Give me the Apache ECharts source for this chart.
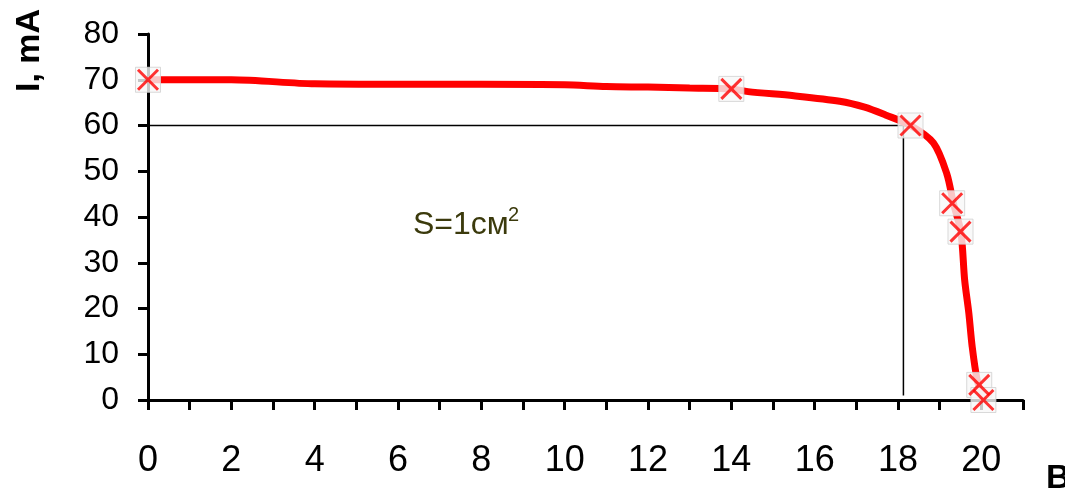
<!DOCTYPE html>
<html><head><meta charset="utf-8">
<script src="https://cdn.jsdelivr.net/npm/echarts@6/dist/echarts.min.js"></script>
<style>html,body{margin:0;padding:0;background:#fff}#c{width:1065px;height:488px}</style>
</head><body><div id="c"></div>
<script>
// measured points (markers)
const markerX = [0, 14, 18.3, 19.3, 19.5, 19.95, 20.05];
const markerY = [70, 68, 60, 43, 36.8, 3.3, 0];
// curve traced through the picture
const curveX = [0, 2, 4, 6, 8, 10, 11, 12, 13, 14, 14.4, 15.5, 16.6, 17.2, 17.7, 18.3, 18.85, 19.17, 19.33, 19.51, 19.6, 19.7, 19.78, 19.9, 20.05];
const curveY = [70, 70, 69.1, 69, 69, 68.9, 68.5, 68.4, 68.2, 68, 67.4, 66.5, 65.3, 64, 62.3, 60, 56.2, 49.5, 43, 36.6, 26.2, 19, 11.7, 4.4, 0];
// guide lines
const hGuideX = [0, 18.3];
const hGuideY = [60, 60];
const vGuideX = [18.13, 18.13];
const vGuideY = [60, 1];
const xTicks = [0, 2, 4, 6, 8, 10, 12, 14, 16, 18, 20];
const yTicks = [0, 10, 20, 30, 40, 50, 60, 70, 80];

const zip = (a, b) => a.map((v, i) => [v, b[i]]);
const chart = echarts.init(document.getElementById('c'), null, {renderer: 'canvas'});
const font = '"Liberation Sans", Arial, sans-serif';
chart.setOption({
  animation: false,
  grid: {left: 148, top: 34, right: 42, bottom: 88, containLabel: false},
  xAxis: {
    type: 'value', min: 0, max: 21, interval: 1,
    axisLine: {lineStyle: {color: '#000', width: 3}, onZero: false},
    axisTick: {show: true, length: 10, lineStyle: {color: '#000', width: 3}},
    splitLine: {show: false},
    axisLabel: {
      margin: 43, fontSize: 36, color: '#000', fontFamily: font,
      formatter: v => xTicks.includes(v) ? String(v) : ''
    }
  },
  yAxis: {
    type: 'value', min: 0, max: 80, interval: 10,
    axisLine: {show: true, lineStyle: {color: '#000', width: 3}},
    axisTick: {show: true, length: 10, lineStyle: {color: '#000', width: 3}},
    splitLine: {show: false},
    axisLabel: {margin: 29, fontSize: 32, color: '#000', fontFamily: font,
      formatter: v => yTicks.includes(v) ? String(v) : ''}
  },
  graphic: [
    {type: 'text', x: 13, y: 92, rotation: Math.PI / 2,
      style: {text: 'I, mA', font: 'bold 34px ' + font, fill: '#000', textVerticalAlign: 'top'}},
    {type: 'text', left: 1046, top: 462,
      style: {text: 'В', font: 'bold 34px ' + font, fill: '#000'}},
    {type: 'text', left: 413, top: 209,
      style: {text: 'S=1см', font: '32px ' + font, fill: '#3b3a0c'}},
    {type: 'text', left: 508, top: 205,
      style: {text: '2', font: '20px ' + font, fill: '#3b3a0c'}}
  ],
  series: [
    {type: 'line', data: zip(hGuideX, hGuideY), symbol: 'none', lineStyle: {color: '#000', width: 1.5}, z: 1},
    {type: 'line', data: zip(vGuideX, vGuideY), symbol: 'none', lineStyle: {color: '#000', width: 1.5}, z: 1},
    {type: 'line', data: zip(curveX, curveY), symbol: 'none', smooth: 0.3,
      lineStyle: {color: '#ff0000', width: 7}, z: 2},
    {type: 'scatter', data: zip(markerX, markerY), symbol: 'rect', symbolSize: 25,
      itemStyle: {color: '#f7f7f7', borderColor: '#d0d0d0', borderWidth: 1}, z: 3},
    {type: 'scatter', data: zip(markerX, markerY), symbol: 'path://M0,0L10,10M10,0L0,10', symbolSize: 20,
      itemStyle: {color: 'none', borderColor: '#ff0000', borderWidth: 3}, z: 4}
  ]
});
</script></body></html>
